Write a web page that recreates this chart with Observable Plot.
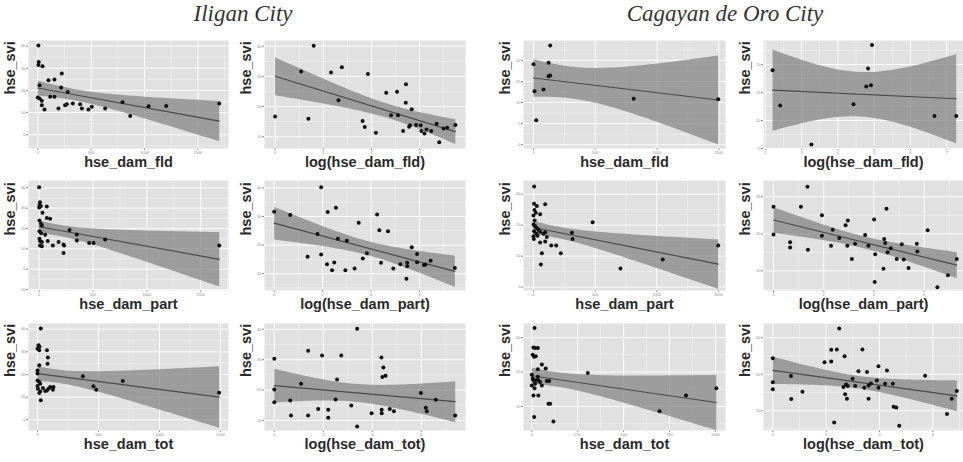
<!DOCTYPE html>
<html>
<head>
<meta charset="utf-8">
<script src="https://cdn.jsdelivr.net/npm/d3@7"></script>
<script src="https://cdn.jsdelivr.net/npm/@observablehq/plot@0.6"></script>
<style>
  body { margin: 0; background: #fff; }
  #chart { position: relative; width: 963px; height: 462px; overflow: hidden; background: #fff; }
  .title { position: absolute; top: 1px; font-family: "Liberation Serif", serif; font-style: italic; font-size: 23px; color: #333; white-space: nowrap; transform: translateX(-50%); line-height: 26px; }
  .panel { position: absolute; }
</style>
</head>
<body>
<div id="chart"></div>
<script>
// ---------- data (x, hse_svi) ----------
const cities = ["Iligan City", "Cagayan de Oro City"];
const xLabels = ["hse_dam_fld", "log(hse_dam_fld)", "hse_dam_part", "log(hse_dam_part)", "hse_dam_tot", "log(hse_dam_tot)"];
const yLabel = "hse_svi";

const iliganFld = [[6,40.3],[9,32.8],[6,31.5],[44,30.9],[225,27.6],[100,24.6],[156,24.9],[16,22.3],[219,21.3],[281,19.3],[0,16.8],[16,16.3],[38,15.3],[116,17.1],[156,17.1],[38,13.3],[63,11.4],[194,11.8],[256,13.3],[272,13.8],[328,14.1],[397,13.8],[413,11.8],[475,11.4],[506,12.6],[631,11.8],[794,14.7],[866,8.4],[1038,12.9],[1203,13.0],[1700,14.1]];
const iliganLogFld = [[0,16.7],[1.08,31.6],[1.38,16.0],[1.6,40.2],[2.32,31.3],[2.63,22.1],[2.77,33.0],[3.63,15.2],[3.72,13.2],[3.85,30.8],[4.18,11.3],[4.61,24.6],[4.81,17.1],[5.06,24.9],[5.1,17.1],[5.31,11.9],[5.43,27.4],[5.42,21.3],[5.56,13.3],[5.6,13.8],[5.67,19.1],[5.85,13.9],[6.04,13.8],[6.07,11.9],[6.2,11.1],[6.28,12.4],[6.48,11.9],[6.7,14.3],[6.81,8.2],[6.99,12.7],[7.14,13.0],[7.48,13.9]];
const cdoFld = [[0,19.1],[8,12.7],[22,5.8],[81,13.1],[122,19.4],[122,16.2],[135,16.4],[135,23.5],[811,10.9],[1495,10.8]];
const cdoLogFld = [[2.2,19.0],[2.41,12.7],[3.27,5.7],[4.43,12.9],[4.78,16.1],[4.83,19.3],[4.91,16.3],[4.94,23.5],[6.66,10.8],[7.26,10.8]];

const iliganPart = [[0,40.3],[8,32.9],[3,31.6],[16,31.0],[0,30.3],[71,30.8],[31,27.7],[71,25.1],[102,24.8],[3,23.9],[16,22.3],[25,21.5],[3,18.6],[18,17.7],[56,16.9],[3,14.9],[8,13.8],[25,13.3],[8,11.6],[25,11.3],[80,13.8],[127,11.6],[180,13.3],[226,12.1],[232,11.6],[226,8.0],[282,19.3],[350,17.0],[350,14.1],[464,12.8],[505,12.9],[613,14.6],[1672,11.6]];
const iliganLogPart = [[0,31.7],[0.66,30.5],[1.38,15.9],[1.79,23.9],[1.94,40.2],[1.94,16.7],[2.18,13.3],[2.21,31.6],[2.39,11.2],[2.48,13.9],[2.55,33.1],[2.63,22.2],[2.94,11.2],[3.0,21.5],[3.32,11.8],[3.49,27.8],[3.66,15.3],[3.83,17.1],[4.25,30.7],[4.34,25.2],[4.41,13.8],[4.7,24.8],[4.92,11.8],[5.21,13.3],[5.49,13.8],[5.46,8.2],[5.49,12.6],[5.68,19.2],[5.9,16.9],[5.9,14.0],[6.18,13.0],[6.25,13.2],[6.46,14.5],[7.46,12.0]];
const cdoPart = [[5,32.5],[5,26.9],[27,26.2],[8,24.9],[19,24.0],[0,23.1],[54,23.5],[95,26.7],[0,20.2],[14,19.6],[27,19.1],[5,18.0],[22,17.2],[0,16.4],[33,16.6],[41,18.5],[54,17.9],[10,21.5],[3,15.5],[54,14.4],[68,10.9],[60,7.3],[81,17.2],[95,17.7],[108,16.2],[95,14.7],[144,13.4],[184,13.4],[222,10.9],[312,17.5],[317,15.5],[480,20.9],[705,6.0],[1049,8.9],[1499,13.4]];
const cdoLogPart = [[0,27.3],[0,19.8],[0.66,17.7],[0.66,16.3],[1.09,27.3],[1.35,32.7],[1.37,15.7],[1.93,25.0],[1.93,19.5],[2.29,16.8],[2.36,21.1],[2.62,18.9],[2.87,22.3],[2.96,23.6],[2.94,16.8],[3.12,13.2],[3.25,17.3],[3.65,19.7],[3.78,16.8],[4.01,23.9],[4.05,14.5],[4.03,7.0],[4.38,10.6],[4.41,18.6],[4.45,17.5],[4.5,26.8],[4.55,15.0],[4.67,16.1],[4.91,13.2],[5.11,17.2],[5.19,13.1],[5.38,10.8],[5.71,17.3],[5.73,15.2],[6.14,21.0],[6.53,5.6],[6.95,8.8],[7.3,13.2]];

const iliganTot = [[27,40.3],[8,32.9],[16,32.2],[0,31.4],[14,30.7],[77,30.7],[85,27.5],[82,24.8],[14,24.1],[0,21.8],[0,20.4],[0,17.4],[14,16.7],[22,15.9],[0,14.9],[3,13.7],[14,11.8],[22,12.5],[27,8.6],[44,14.0],[63,12.7],[76,13.0],[90,13.7],[104,14.5],[126,13.3],[131,14.5],[372,19.2],[459,14.8],[481,13.3],[699,17.1],[1489,12.0]];
const iliganLogTot = [[0,30.3],[0,20.2],[0,16.0],[0.65,16.6],[0.68,11.6],[1.09,22.1],[1.38,32.9],[1.38,11.6],[1.79,13.8],[1.95,31.4],[2.2,13.5],[2.2,10.9],[2.5,16.9],[2.56,23.5],[2.73,31.4],[3.14,14.9],[3.38,40.2],[3.38,8.0],[3.97,12.4],[4.37,30.7],[4.38,13.5],[4.38,12.4],[4.41,24.3],[4.45,27.4],[4.54,24.7],[4.71,13.8],[4.88,13.0],[5.98,19.0],[6.18,14.2],[6.22,13.0],[6.59,16.8],[7.38,11.6]];
const cdoTot = [[15,32.8],[9,27.1],[18,27.0],[33,27.0],[5,25.0],[13,24.4],[22,24.6],[33,20.8],[55,22.2],[76,21.0],[0,19.2],[5,18.1],[9,17.6],[0,16.1],[15,15.3],[9,13.2],[18,16.6],[27,17.6],[33,18.6],[36,17.6],[45,17.1],[55,16.1],[36,13.2],[82,17.4],[95,17.4],[91,10.8],[100,10.8],[13,6.9],[118,5.6],[305,19.7],[696,8.6],[840,13.2],[1005,15.3]];
const cdoLogTot = [[0,24.4],[0,17.8],[0,15.9],[0.68,19.5],[0.69,13.2],[1.11,15.2],[1.94,23.3],[2.19,26.7],[2.19,23.5],[2.3,6.8],[2.4,26.8],[2.49,32.5],[2.65,16.5],[2.69,24.9],[2.71,14.5],[2.75,17.2],[2.78,13.3],[2.81,16.8],[2.99,18.8],[3.09,16.8],[3.21,20.8],[3.36,26.8],[3.43,16.3],[3.53,20.6],[3.59,13.3],[3.59,16.9],[3.68,17.5],[3.9,18.3],[3.96,22.2],[3.96,16.3],[4.21,17.4],[4.28,21.0],[4.5,17.4],[4.53,11.1],[4.63,10.9],[4.74,5.9],[5.71,19.6],[6.53,9.1],[6.71,13.3],[6.9,15.4]];

// tick values per panel
const xTicksRaw = [0, 500, 1000, 1500];
const xTicksRawTot = [0, 250, 500, 750, 1000];
const xTicksLog = [0, 2, 4, 6];
const xTicksLog27 = [2, 3, 4, 5, 6, 7];

const panels = [
  {data: iliganFld,     col: 0, row: 0, lab: 0, xd: [-87, 1787], yd: [-6.2, 42.5], xt: xTicksRaw,  yt: [0, 10, 20, 30, 40]},
  {data: iliganLogFld,  col: 1, row: 0, lab: 1, xd: [-0.44, 7.9], yd: [6.1, 41.9], xt: xTicksLog,  yt: [10, 20, 30, 40]},
  {data: cdoFld,        col: 2, row: 0, lab: 0, xd: [-81, 1554], yd: [-0.9, 24.7], xt: xTicksRaw,  yt: [0, 5, 10, 15, 20]},
  {data: cdoLogFld,     col: 3, row: 0, lab: 1, xd: [1.95, 7.46], yd: [5.0, 24.3], xt: xTicksLog27, yt: [5, 10, 15, 20]},
  {data: iliganPart,    col: 0, row: 1, lab: 2, xd: [-99, 1758], yd: [-10.5, 43.6], xt: xTicksRaw, yt: [-10, 0, 10, 20, 30, 40]},
  {data: iliganLogPart, col: 1, row: 1, lab: 3, xd: [-0.4, 7.9], yd: [4.1, 42.6], xt: xTicksLog,   yt: [10, 20, 30, 40]},
  {data: cdoPart,       col: 2, row: 1, lab: 2, xd: [-81, 1558], yd: [-1.1, 34.4], xt: xTicksRaw,  yt: [0, 10, 20, 30]},
  {data: cdoLogPart,    col: 3, row: 1, lab: 3, xd: [-0.4, 7.57], yd: [4.7, 34.4], xt: xTicksLog,  yt: [10, 20, 30]},
  {data: iliganTot,     col: 0, row: 2, lab: 4, xd: [-74, 1566], yd: [-4.7, 42.5], xt: xTicksRaw,  yt: [0, 10, 20, 30, 40]},
  {data: iliganLogTot,  col: 1, row: 2, lab: 5, xd: [-0.4, 7.8], yd: [6.7, 41.9], xt: xTicksLog,   yt: [10, 20, 30, 40]},
  {data: cdoTot,        col: 2, row: 2, lab: 4, xd: [-45, 1055], yd: [3.0, 34.1], xt: xTicksRawTot, yt: [10, 20, 30]},
  {data: cdoLogTot,     col: 3, row: 2, lab: 5, xd: [-0.35, 7.15], yd: [4.6, 33.9], xt: xTicksLog, yt: [10, 20, 30]}
];

// ---------- layout ----------
const colLeft = [28, 264, 523, 763];
const colRight = [228, 465, 725, 963];
const rowTop = [40, 180, 323];
const rowBottom = [148, 290, 430];
const mL = 28, mT = 6, mB = 30;

const chart = document.getElementById("chart");
const titleX = [243, 725];
cities.forEach((c, i) => {
  const t = document.createElement("div");
  t.className = "title";
  t.style.left = titleX[i] + "px";
  t.textContent = c;
  chart.appendChild(t);
});

function mids(t) {
  const m = [];
  for (let i = 0; i < t.length - 1; i++) m.push((t[i] + t[i + 1]) / 2);
  return m;
}

panels.forEach(p => {
  const pw = colRight[p.col] - colLeft[p.col];
  const ph = rowBottom[p.row] - rowTop[p.row];
  const rows = p.data.map(([x, y]) => ({x, y}));
  const xs = [p.xt[0] - (p.xt[1] - p.xt[0]) / 2, ...mids(p.xt), p.xt[p.xt.length - 1] + (p.xt[1] - p.xt[0]) / 2].filter(v => v >= p.xd[0] && v <= p.xd[1]);
  const ys = [p.yt[0] - (p.yt[1] - p.yt[0]) / 2, ...mids(p.yt), p.yt[p.yt.length - 1] + (p.yt[1] - p.yt[0]) / 2].filter(v => v >= p.yd[0] && v <= p.yd[1]);
  const svg = Plot.plot({
    width: pw + mL,
    height: ph + mT + mB,
    marginLeft: mL, marginRight: 0, marginTop: mT, marginBottom: mB,
    style: {fontSize: "4px", color: "#8a8a8a", background: "none", fontFamily: "Liberation Sans, Arial, sans-serif", overflow: "visible"},
    x: {domain: p.xd, ticks: p.xt, tickSize: 2, tickPadding: 0.5, label: null, tickFormat: d => String(d)},
    y: {domain: p.yd, ticks: p.yt, tickSize: 2, tickPadding: 1, label: null, tickFormat: d => String(d)},
    marks: [
      Plot.frame({fill: "#e1e1e1", stroke: "none"}),
      Plot.ruleX(xs, {stroke: "#f4f4f4", strokeWidth: 0.5}),
      Plot.ruleY(ys, {stroke: "#f4f4f4", strokeWidth: 0.5}),
      Plot.ruleX(p.xt, {stroke: "#fbfbfb", strokeWidth: 1}),
      Plot.ruleY(p.yt, {stroke: "#fbfbfb", strokeWidth: 1}),
      Plot.linearRegressionY(rows, {x: "x", y: "y", stroke: "#4a4a4a", strokeWidth: 1.2, fill: "#7f7f7f", fillOpacity: 0.7}),
      Plot.dot(rows, {x: "x", y: "y", r: 2, fill: "#111", stroke: "none"}),
      Plot.text([xLabels[p.lab]], {text: d => d, frameAnchor: "bottom", dy: 18, fontSize: 14.5, fontWeight: "bold", fill: "#2a2a2a"}),
      Plot.text([yLabel], {text: d => d, frameAnchor: "left", dx: -18, rotate: -90, fontSize: 14.5, fontWeight: "bold", fill: "#2a2a2a"})
    ]
  });
  const wrap = document.createElement("div");
  wrap.className = "panel";
  wrap.style.left = (colLeft[p.col] - mL) + "px";
  wrap.style.top = (rowTop[p.row] - mT) + "px";
  wrap.appendChild(svg);
  chart.appendChild(wrap);
});
</script>
</body>
</html>
